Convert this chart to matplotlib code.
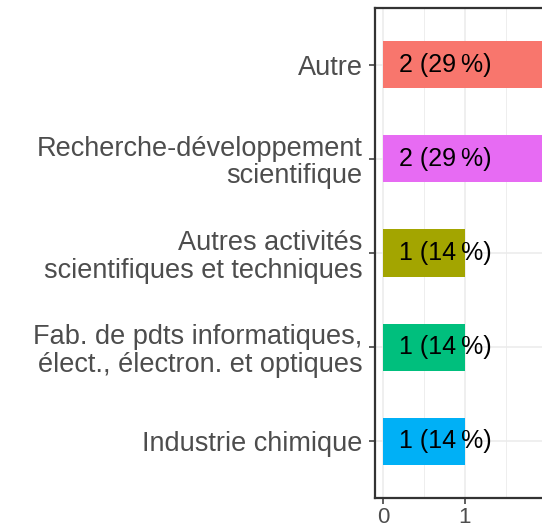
import matplotlib
matplotlib.use("Agg")
import matplotlib.pyplot as plt

plt.rcParams['font.family'] = ['Liberation Sans', 'DejaVu Sans']

categories = ["Industrie chimique",
              "Fab. de pdts informatiques,\nélect., électron. et optiques",
              "Autres activités\nscientifiques et techniques",
              "Recherche-développement\nscientifique",
              "Autre"]
values = [1, 1, 1, 2, 2]
percents = [14, 14, 14, 29, 29]
colors = ["#00B0F6", "#00BF7D", "#A3A500", "#E76BF3", "#F8766D"]

fig = plt.figure(figsize=(5.42, 5.30), dpi=100)
ax = fig.add_axes([375/542, 1-498/530, 180/542, 490/530])

ypos = list(range(1, len(categories)+1))
ax.barh(ypos, values, height=0.5, color=colors, zorder=2)
for y, v, p in zip(ypos, values, percents):
    ax.text(0.19, y, f"{v} ({p}\u2009%)", ha='left', va='center',
            fontsize=18, color='black', zorder=3)

ax.set_xlim(-0.1, 2.1)
ax.set_ylim(0.4, 5.6)
ax.set_yticks(ypos)
ax.set_yticklabels(categories, fontsize=19.5, color='#4D4D4D', linespacing=1.08)
ax.set_xticks([0, 1, 2])
ax.set_xticklabels(["0", "1", "2"], fontsize=16, color='#4D4D4D')
ax.set_xticks([0.5, 1.5], minor=True)
ax.grid(True, which='major', axis='x', color='#EBEBEB', lw=1.1, zorder=0)
ax.grid(True, which='minor', axis='x', color='#EBEBEB', lw=0.6, zorder=0)
ax.grid(True, which='major', axis='y', color='#EBEBEB', lw=1.1, zorder=0)
ax.tick_params(axis='both', which='major', length=4.5, width=1.1, color='#333333')
ax.tick_params(axis='x', which='minor', length=0)
ax.tick_params(axis='y', pad=4.5)
ax.tick_params(axis='x', pad=2)
for s in ['left', 'top', 'bottom']:
    ax.spines[s].set_color('#333333')
    ax.spines[s].set_linewidth(1.6)
ax.spines['right'].set_visible(False)

fig.savefig("out.png", dpi=100)
